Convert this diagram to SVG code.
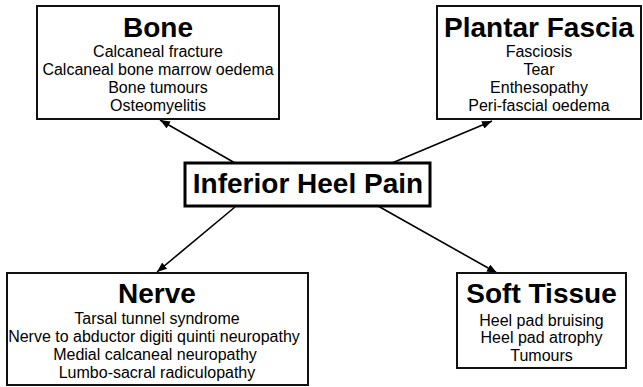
<svg xmlns="http://www.w3.org/2000/svg" width="643" height="387" viewBox="0 0 643 387">
<style>
.box{fill:#fff;stroke:#111;stroke-width:2}
.main{fill:#fff;stroke:#000;stroke-width:3}
.t{font-family:"Liberation Sans",Arial,sans-serif;font-weight:bold;font-size:28px;fill:#000;text-anchor:middle}
.s{font-family:"Liberation Sans",Arial,sans-serif;font-size:16px;fill:#000;text-anchor:middle}
.c line{stroke:#000;stroke-width:1.6;marker-end:url(#ah)}
</style>
<defs>
<marker id="ah" viewBox="0 0 10 8" refX="10" refY="4" markerWidth="10" markerHeight="8" markerUnits="userSpaceOnUse" orient="auto">
<path d="M0,0 L10,4 L0,8 z" fill="#000"/>
</marker>
</defs>
<rect width="643" height="387" fill="#fff"/>
<g class="c" id="connectors">
<line x1="235" y1="163" x2="160" y2="120"/>
<line x1="392" y1="163" x2="492" y2="121"/>
<line x1="235" y1="207" x2="157" y2="272"/>
<line x1="378" y1="206" x2="497" y2="273"/>
</g>
<g id="bone">
<rect class="box" x="37" y="6" width="242" height="113"/>
<text class="t" x="158" y="37">Bone</text>
<text class="s" x="158" y="57">Calcaneal fracture</text>
<text class="s" x="158" y="75">Calcaneal bone marrow oedema</text>
<text class="s" x="158" y="93">Bone tumours</text>
<text class="s" x="158" y="111">Osteomyelitis</text>
</g>
<g id="plantar">
<rect class="box" x="437" y="6" width="204" height="113"/>
<text class="t" x="539" y="37">Plantar Fascia</text>
<text class="s" x="539" y="57">Fasciosis</text>
<text class="s" x="539" y="75">Tear</text>
<text class="s" x="539" y="93">Enthesopathy</text>
<text class="s" x="539" y="111">Peri-fascial oedema</text>
</g>
<g id="center">
<rect class="main" x="185" y="163" width="245" height="43"/>
<text class="t" x="308" y="193">Inferior Heel Pain</text>
</g>
<g id="nerve">
<rect class="box" x="7" y="273" width="301" height="112"/>
<text class="t" x="157" y="303">Nerve</text>
<text class="s" x="157" y="324">Tarsal tunnel syndrome</text>
<text class="s" x="154" y="342">Nerve to abductor digiti quinti neuropathy</text>
<text class="s" x="155" y="360">Medial calcaneal neuropathy</text>
<text class="s" x="157" y="378">Lumbo-sacral radiculopathy</text>
</g>
<g id="soft">
<rect class="box" x="457" y="273" width="169" height="95"/>
<text class="t" x="541.5" y="303">Soft Tissue</text>
<text class="s" x="541.5" y="326">Heel pad bruising</text>
<text class="s" x="541.5" y="343">Heel pad atrophy</text>
<text class="s" x="541.5" y="361">Tumours</text>
</g>
</svg>
